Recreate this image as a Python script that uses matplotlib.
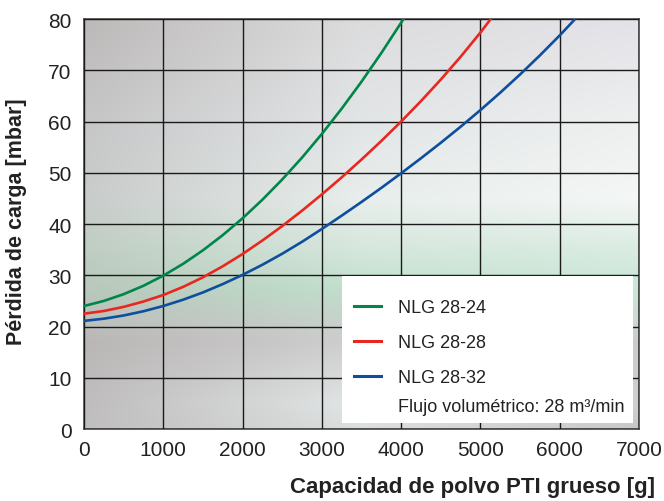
import numpy as np
import matplotlib.pyplot as plt
from matplotlib.lines import Line2D
from matplotlib.patches import Rectangle
from matplotlib.colors import to_rgb

plt.rcParams['font.family'] = ['Liberation Sans', 'DejaVu Sans']

# Datos (capacidad de polvo [g] -> pérdida de carga [mbar])
x_24 = [0, 250, 500, 750, 1000, 1250, 1500, 1750, 2000, 2250, 2500, 2750, 3000, 3250, 3500, 3750, 4000, 4030]
y_24 = [24.0, 24.99, 26.31, 27.95, 29.93, 32.23, 34.87, 37.83, 41.12, 44.74, 48.69, 52.96, 57.57, 62.51,
        67.77, 73.36, 79.28, 80.0]

x_28 = [0, 250, 500, 750, 1000, 1250, 1500, 1750, 2000, 2250, 2500, 2750, 3000, 3250, 3500, 3750, 4000,
        4250, 4500, 4750, 5000, 5130]
y_28 = [22.5, 23.03, 23.83, 24.88, 26.15, 27.73, 29.6, 31.75, 34.15, 36.78, 39.6, 42.6, 45.78, 49.1, 52.58,
        56.2, 60.0, 63.98, 68.18, 72.63, 77.36, 80.0]

x_32 = [0, 250, 500, 750, 1000, 1250, 1500, 1750, 2000, 2250, 2500, 2750, 3000, 3250, 3500, 3750, 4000,
        4250, 4500, 4750, 5000, 5250, 5500, 5750, 6000, 6195]
y_32 = [21.1, 21.53, 22.15, 22.98, 24.0, 25.23, 26.65, 28.28, 30.08, 32.05, 34.2, 36.53, 39.03, 41.63, 44.3,
        47.05, 49.9, 52.83, 55.85, 58.98, 62.23, 65.63, 69.18, 72.9, 76.8, 80.0]

etiquetas = ['NLG 28-24', 'NLG 28-28', 'NLG 28-32']
colores = ['#00854a', '#e8281e', '#0e4e9e']
nota = 'Flujo volumétrico: 28 m³/min'

fig = plt.figure(figsize=(6.64, 5.02), dpi=100)
ax = fig.add_axes([0.1265, 0.1434, 0.8358, 0.8167])

# Fondo degradado (gris arriba, franja verde, gris abajo)
paradas_y = [80, 60, 45, 36, 27, 21, 17, 5, 0]
col_izq = ['#bdb9b9', '#c6c6c7', '#c9cccb', '#c0cec4', '#b8c8ba', '#bcc0bc', '#bab6b6', '#bfbdbd', '#c0bebe']
col_med = ['#dcdcdd', '#e2e5e6', '#e8eeec', '#d8e8de', '#c0e0cc', '#c9d3cd', '#cfcfcf', '#e2e6e6', '#dcdfdf']
col_der = ['#e4e2e8', '#eef0f0', '#f4f7f5', '#dcede4', '#c8e6d6', '#d0d8d2', '#cacccb', '#cfd0cf', '#c8c8c8']
yy = np.linspace(80, 0, 300)
xx = np.linspace(0, 1, 400)
img = np.zeros((300, 400, 3))
cols = [np.array([to_rgb(c) for c in lst]) for lst in (col_izq, col_med, col_der)]
for ch in range(3):
    filas = [np.interp(yy, paradas_y[::-1], c[::-1, ch]) for c in cols]
    for i in range(300):
        img[i, :, ch] = np.interp(xx, [0, 0.5, 1], [filas[0][i], filas[1][i], filas[2][i]])
ax.imshow(img, extent=[0, 7000, 0, 80], aspect='auto', interpolation='bilinear', zorder=0)

ax.grid(True, color='#1a1a1a', linewidth=1.0, zorder=1)
ax.set_axisbelow(False)

ax.plot(x_24, y_24, color=colores[0], linewidth=1.9, zorder=3)
ax.plot(x_28, y_28, color=colores[1], linewidth=1.9, zorder=3)
ax.plot(x_32, y_32, color=colores[2], linewidth=1.9, zorder=3)

ax.set_xlim(0, 7000)
ax.set_ylim(0, 80)
ax.set_xticks(range(0, 7001, 1000))
ax.set_yticks(range(0, 81, 10))
ax.tick_params(length=0, labelsize=15, colors='#222222')
ax.tick_params(axis='x', pad=8)
ax.tick_params(axis='y', pad=9)
for s in ax.spines.values():
    s.set_color('#444444')
    s.set_linewidth(1.2)

# Cuadro blanco de la leyenda
ax.add_patch(Rectangle((0.465, 0.0146), 0.524, 0.358, transform=ax.transAxes,
                       facecolor='white', edgecolor='none', zorder=4))
handles = [Line2D([], [], color=c, linewidth=2.2) for c in colores]
leg = ax.legend(handles, etiquetas, loc='upper left', bbox_to_anchor=(0.4867, 0.317),
                frameon=False, fontsize=13, handlelength=1.5, handletextpad=0.95,
                labelspacing=1.0, borderpad=0, borderaxespad=0)
leg.set_zorder(5)
for t in leg.get_texts():
    t.set_color('#222222')
ax.text(0.566, 0.0544, nota, transform=ax.transAxes, fontsize=13, color='#222222',
        ha='left', va='center', zorder=6)

ax.set_xlabel('Capacidad de polvo PTI grueso [g]', fontsize=16, fontweight='bold',
              ha='right', va='center', color='#222222')
ax.xaxis.set_label_coords(1.029, -0.139)
ax.set_ylabel('Pérdida de carga [mbar]', fontsize=15.5, fontweight='bold',
              va='center', color='#222222')
ax.yaxis.set_label_coords(-0.121, 0.507)

fig.savefig('out.png', dpi=100)
